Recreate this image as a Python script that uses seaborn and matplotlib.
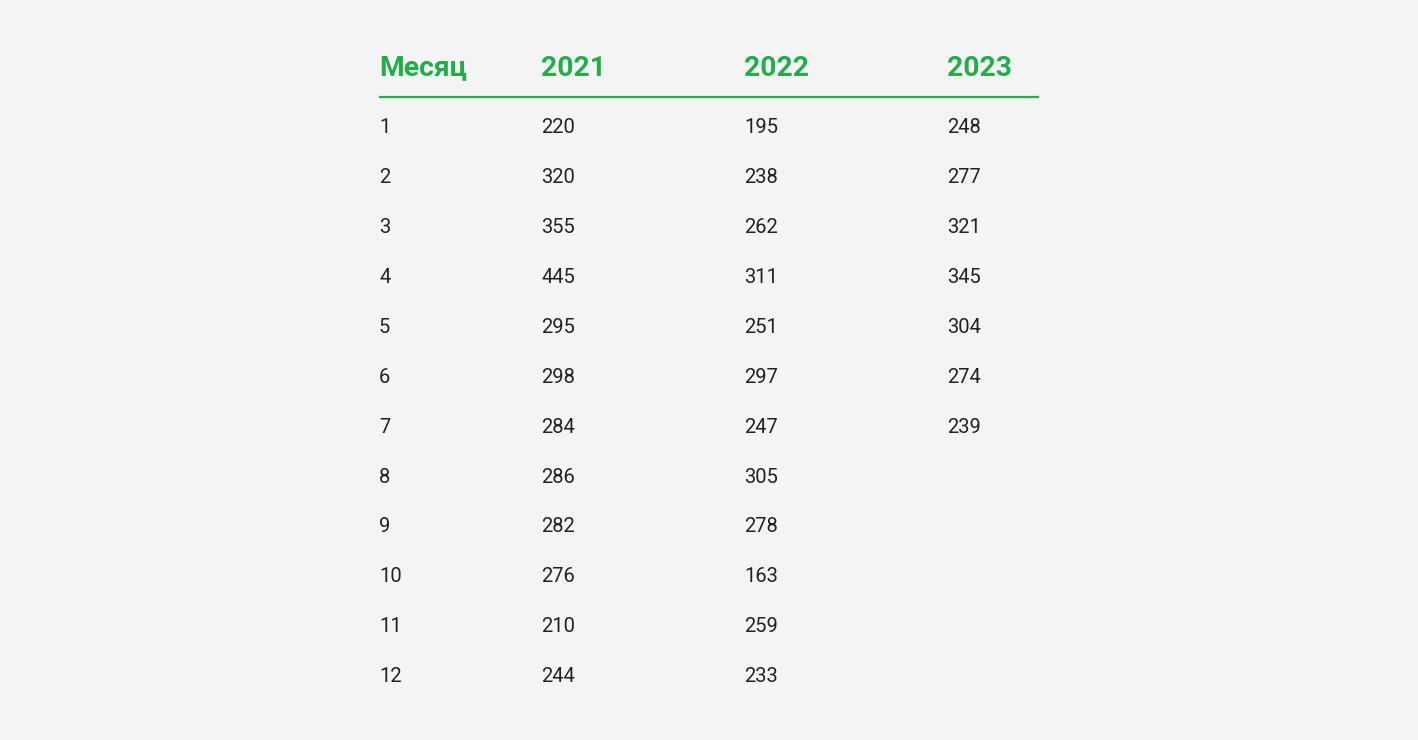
import numpy as np
import pandas as pd
import matplotlib
matplotlib.use('Agg')
import matplotlib.pyplot as plt
import seaborn as sns

# table data
months = list(range(1, 13))
years = ['2021', '2022', '2023']
v2021 = [220, 320, 355, 445, 295, 298, 284, 286, 282, 276, 210, 244]
v2022 = [195, 238, 262, 311, 251, 297, 247, 305, 278, 163, 259, 233]
v2023 = [248, 277, 321, 345, 304, 274, 239, None, None, None, None, None]
header_first = 'Месяц'

bg = '#f4f4f4'
green = '#22ad4b'
ink = '#222222'

sns.set_theme(style='white', rc={'figure.facecolor': bg, 'axes.facecolor': bg})
plt.rcParams['font.family'] = ['Roboto', 'DejaVu Sans']

df = pd.DataFrame({'month': months, '2021': v2021, '2022': v2022, '2023': v2023})

fig = plt.figure(figsize=(14.18, 7.40), dpi=100)
ax = fig.add_axes([0, 0, 1, 1])
ax.set_xlim(0, 1418)
ax.set_ylim(13.15, -1.65)
ax.set_axis_off()

col_x = [379, 541, 744, 947]
header_y = -0.14
rule_y = 0.29

# header
for x, label in zip(col_x, [header_first] + years):
    ax.text(x, header_y, label, color=green, fontsize=20.3, fontweight='bold',
            ha='left', va='baseline')
ax.plot([col_x[0], 1039], [rule_y, rule_y], color=green, lw=1.6,
        solid_capstyle='butt')

# body
for i, row in df.iterrows():
    y = row['month']
    ax.text(col_x[0], y, str(int(row['month'])), color=ink, fontsize=14.5,
            ha='left', va='baseline')
    for x, yr in zip(col_x[1:], years):
        val = row[yr]
        if pd.isna(val):
            continue
        ax.text(x, y, str(int(val)), color=ink, fontsize=14.5,
                ha='left', va='baseline')

fig.savefig('out.png', dpi=100, facecolor=bg)
